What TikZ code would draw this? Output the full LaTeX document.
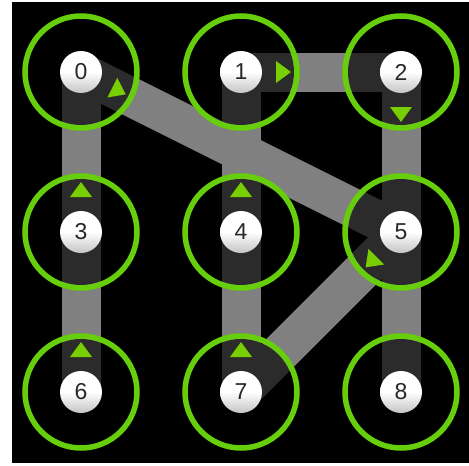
\documentclass[tikz,border=0pt]{standalone}
\usepackage{fontspec}
\setmainfont{Liberation Sans}
\usetikzlibrary{calc}
\definecolor{ringgreen}{RGB}{102,206,10}
\definecolor{arrowgreen}{RGB}{120,206,0}
\definecolor{bargray}{RGB}{128,128,128}
\definecolor{digitgray}{RGB}{40,40,40}
\definecolor{ballshade}{RGB}{196,196,196}
\tikzset{
  bar/.style={draw=bargray, line width=39pt, line cap=butt},
  dotarea/.style={fill=black, fill opacity=0.66},
  ring/.style={draw=ringgreen, line width=5.5pt},
  arrowc/.style={fill=arrowgreen},
  ball/.style={circle, minimum size=42pt, inner sep=0pt, top color=white, bottom color=ballshade, middle color=white, text=digitgray, font=\fontsize{23}{23}\selectfont},
}
\newcommand\arrowmark[2]{%
  \coordinate (tmpb) at ($(#1)!35pt!(#2)$);
  \fill[arrowc] ($(#1)!50pt!(#2)$) -- ($(tmpb)!11pt!90:(#2)$) -- ($(tmpb)!11pt!-90:(#2)$) -- cycle;}
\begin{document}
\begin{tikzpicture}[x=1pt,y=-1pt]
\useasboundingbox (0,0) rectangle (469,466);
\fill[white] (0,0) rectangle (469,466);
\fill[black] (12,2) rectangle (469,463);
% centres
\coordinate (n0) at (81,72);
\coordinate (n1) at (241,72);
\coordinate (n2) at (401,72);
\coordinate (n3) at (81,232);
\coordinate (n4) at (241,232);
\coordinate (n5) at (401,232);
\coordinate (n6) at (81,392);
\coordinate (n7) at (241,392);
\coordinate (n8) at (401,392);
% pattern bars
\draw[bar] (n6) -- (n3);
\draw[bar] (n3) -- (n0);
\draw[bar] (n0) -- (n5);
\draw[bar] (n5) -- (n7);
\draw[bar] (n7) -- (n4);
\draw[bar] (n4) -- (n1);
\draw[bar] (n1) -- (n2);
\draw[bar] (n2) -- (n8);
% dot areas and rings
\foreach \n in {0,...,8} {
  \fill[dotarea] (n\n) circle[radius=53];
  \draw[ring] (n\n) circle[radius=56];
}
% direction arrows
\arrowmark{n6}{n3}
\arrowmark{n3}{n0}
\arrowmark{n0}{n5}
\arrowmark{n5}{n7}
\arrowmark{n7}{n4}
\arrowmark{n4}{n1}
\arrowmark{n1}{n2}
\arrowmark{n2}{n8}
% balls
\foreach \n in {0,...,8} {
  \node[ball] (b\n) at (n\n) {\n};
}
\end{tikzpicture}
\end{document}
